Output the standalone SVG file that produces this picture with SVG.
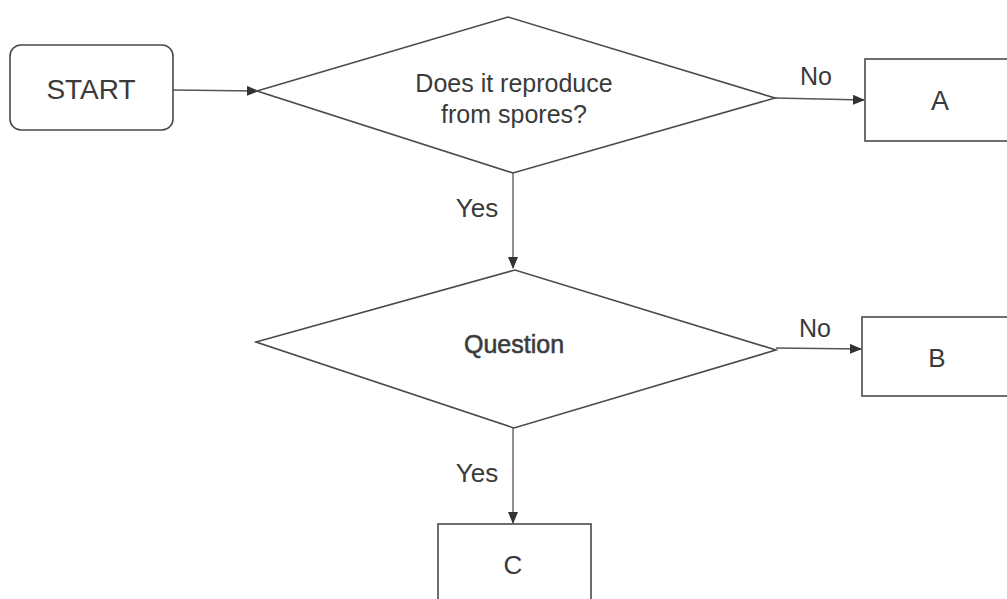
<svg xmlns="http://www.w3.org/2000/svg" width="1007" height="599" viewBox="0 0 1007 599">
<style>
.shape{fill:#fff;stroke:#4a4a4a;stroke-width:1.6}
.lbl{font-family:"Liberation Sans",Arial,sans-serif;fill:#3a3a3a;text-anchor:middle}
.conn{stroke:#555;stroke-width:1.3;fill:none}
</style>
<defs>
<marker id="ah" markerWidth="12" markerHeight="10" refX="11" refY="5" orient="auto" markerUnits="userSpaceOnUse">
<path d="M0,0 L12,5 L0,10 z" fill="#333"/>
</marker>
</defs>
<rect width="1007" height="599" fill="#fff"/>
<g id="connectors">
<line class="conn" x1="173" y1="90" x2="258" y2="91" marker-end="url(#ah)"/>
<line class="conn" x1="775" y1="98" x2="864" y2="100" marker-end="url(#ah)"/>
<line class="conn" x1="513" y1="173" x2="513" y2="268" marker-end="url(#ah)"/>
<line class="conn" x1="776" y1="348" x2="861" y2="349" marker-end="url(#ah)"/>
<line class="conn" x1="513" y1="428" x2="513" y2="523" marker-end="url(#ah)"/>
<text class="lbl" x="816" y="85" font-size="25">No</text>
<text class="lbl" x="477" y="217" font-size="26">Yes</text>
<text class="lbl" x="815" y="337" font-size="25">No</text>
<text class="lbl" x="477" y="482" font-size="26">Yes</text>
</g>
<g id="start">
<rect class="shape" x="10" y="45" width="163" height="85" rx="11"/>
<text class="lbl" x="91" y="99" font-size="28">START</text>
</g>
<g id="q1">
<polygon class="shape" points="257,91 508,17 775,98 513,173"/>
<text class="lbl" x="514" y="92" font-size="25">Does it reproduce</text>
<text class="lbl" x="514" y="123" font-size="25">from spores?</text>
</g>
<g id="a">
<rect class="shape" x="865" y="59" width="150" height="82"/>
<text class="lbl" x="940" y="110" font-size="27">A</text>
</g>
<g id="q2">
<polygon class="shape" points="256,342 515,270 776,350 514,428"/>
<text class="lbl" x="514" y="353" font-size="25" stroke="#444" stroke-width="0.6" fill="#444">Question</text>
</g>
<g id="b">
<rect class="shape" x="862" y="317" width="150" height="79"/>
<text class="lbl" x="937" y="367" font-size="26" fill="#555">B</text>
</g>
<g id="c">
<rect class="shape" x="438" y="524" width="153" height="85"/>
<text class="lbl" x="513" y="574" font-size="26" fill="#666">C</text>
</g>
</svg>
